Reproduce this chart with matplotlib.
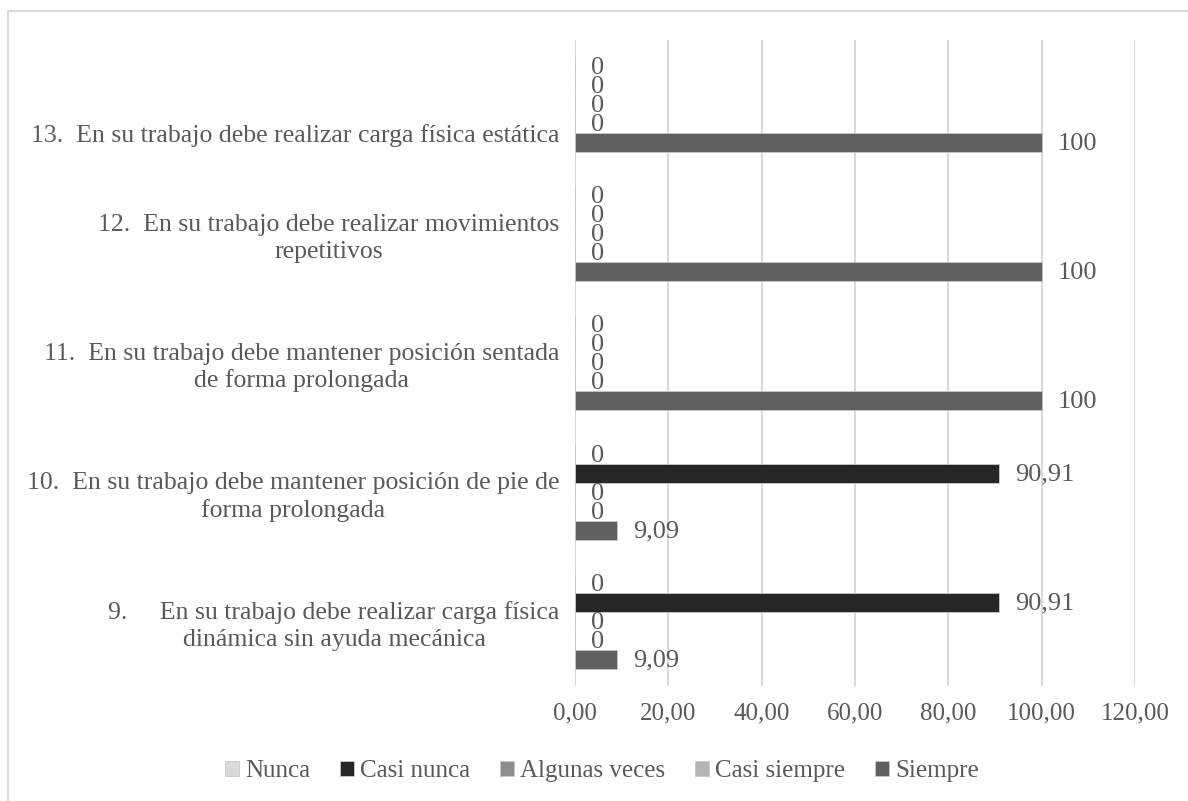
import numpy as np
import matplotlib.pyplot as plt
from matplotlib.patches import Rectangle

# categorías (de abajo hacia arriba)
categorias = [
    "9.     En su trabajo debe realizar carga física\ndinámica sin ayuda mecánica",
    "10.  En su trabajo debe mantener posición de pie de\nforma prolongada",
    "11.  En su trabajo debe mantener posición sentada\nde forma prolongada",
    "12.  En su trabajo debe realizar movimientos\nrepetitivos",
    "\n\n13.  En su trabajo debe realizar carga física estática",
]
series = ["Nunca", "Casi nunca", "Algunas veces", "Casi siempre", "Siempre"]
nunca = [0, 0, 0, 0, 0]
casi_nunca = [90.91, 90.91, 0, 0, 0]
algunas_veces = [0, 0, 0, 0, 0]
casi_siempre = [0, 0, 0, 0, 0]
siempre = [9.09, 9.09, 100, 100, 100]
colores = ["#d9d9d9", "#262626", "#8c8c8c", "#b4b4b4", "#606060"]
ticks_x = [0, 20, 40, 60, 80, 100, 120]

TXT = "#595959"
FONT = "Liberation Serif"


def etiqueta(v):
    if v == int(v):
        return str(int(v))
    return f"{v:.2f}".replace(".", ",")


def main():
    plt.rcParams['font.family'] = FONT
    fig = plt.figure(figsize=(11.88, 8.01), dpi=100)
    fig.patches.append(Rectangle((8 / 1188, -0.05), 1.1, 1.05 - 11 / 801,
                                 transform=fig.transFigure, fill=False,
                                 edgecolor="#d9d9d9", linewidth=1.5))
    ax = fig.add_axes([575 / 1188, 1 - 686 / 801, 560 / 1188, 646 / 801])

    valores = [nunca, casi_nunca, algunas_veces, casi_siempre, siempre]
    y = np.arange(len(categorias))
    h = 0.147
    for i, (nombre, vals, col) in enumerate(zip(series, valores, colores)):
        pos = y + (2 - i) * h
        ax.barh(pos, vals, height=h, color=col, label=nombre,
                edgecolor="#c8c8c8", linewidth=0.6, zorder=3)
        for p, v in zip(pos, vals):
            ax.annotate(etiqueta(v), (v, p), xytext=(11.5, -1),
                        textcoords="offset points", ha="left", va="center",
                        fontsize=19, color=TXT)

    ax.set_xlim(0, 120)
    ax.set_ylim(-0.5, len(categorias) - 0.5)
    ax.set_xticks(ticks_x)
    ax.set_xticklabels([f"{t:.2f}".replace(".", ",") for t in ticks_x],
                       fontsize=18, color=TXT)
    ax.set_yticks(y)
    ax.set_yticklabels(categorias, fontsize=18.5, color=TXT,
                       multialignment="center", linespacing=1.25)
    ax.tick_params(axis="both", length=0)
    ax.tick_params(axis="y", pad=11)
    ax.tick_params(axis="x", pad=12)
    ax.grid(axis="x", color="#d9d9d9", linewidth=1.5, zorder=0)
    for s in ax.spines.values():
        s.set_visible(False)

    ax.legend(loc="center", bbox_to_anchor=(602 / 1188, 1 - 771 / 801),
              bbox_transform=fig.transFigure, ncol=5, frameon=False,
              fontsize=18, labelcolor=TXT, handlelength=0.55,
              handleheight=0.55, handletextpad=0.25, columnspacing=1.2)

    fig.savefig("out.png", dpi=100)


if __name__ == "__main__":
    main()
